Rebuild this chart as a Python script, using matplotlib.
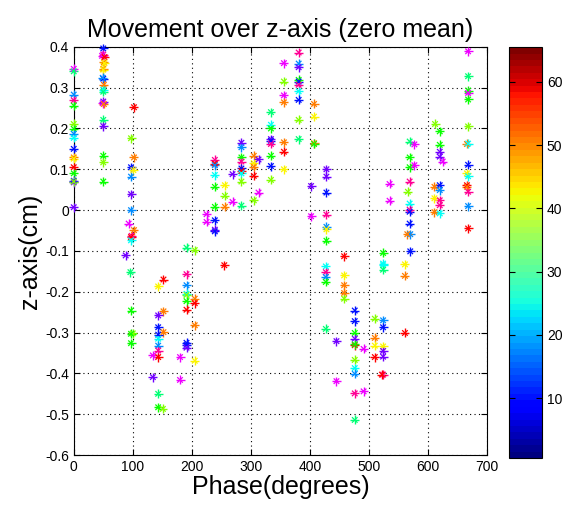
import numpy as np
import matplotlib.pyplot as plt
from matplotlib import cm
from matplotlib.colors import Normalize

plt.rcParams['font.family'] = ['Liberation Sans', 'DejaVu Sans']

# hue index: 0 red, 1 orange, 2 yellow, 3 lime, 4 green, 5 spring green,
# 6 cyan, 7 azure, 8 blue, 9 violet, 10 magenta, 11 rose
fase = [
    0, 0, 0, 0, 0, 0, 0, 0, 0, 0, 0, 0, 0, 0, 0, 0, 0, 0,
    50, 50, 48, 52, 51, 52, 50, 50, 50, 49, 51, 50, 50, 50, 49, 51, 50, 50, 50, 50, 50,
    102, 97, 102, 97, 101, 97, 97, 97, 93, 102, 98, 97, 97, 88, 96, 97, 100, 97, 97,
    152, 143, 152, 143, 143, 152, 143, 143, 143, 143, 143, 134, 134, 143, 143, 151,
    191, 205, 191, 191, 191, 191, 191, 191, 205, 205, 205, 191, 191, 191, 180, 205, 180,
    239, 239, 239, 239, 239, 239, 225, 225, 239, 239, 239,
    256, 256, 256, 269, 269, 255,
    284, 284, 284, 284, 284, 284, 284, 284, 284,
    305, 305, 305, 305, 313, 313, 305,
    334, 334, 334, 334, 334, 334, 334, 334, 334,
    356, 356, 356, 356, 356, 356, 356,
    381, 381, 381, 381, 381, 381, 381, 381, 381, 381,
    407, 407, 407, 407, 402, 402,
    428, 428, 428, 428, 428, 428, 428, 427, 427, 427, 427, 427,
    458, 458, 458, 458, 458, 445, 445,
    476, 476, 476, 476, 476, 476, 476, 476, 476, 476, 476, 491, 491,
    510, 510, 510, 510,
    524, 524, 524, 524, 524, 524, 522, 524, 524, 524, 524,
    535, 535,
    569, 577, 569, 569, 577, 569, 566, 569, 569, 569, 569, 570, 565, 570, 561, 561, 561,
    612, 620, 620, 620, 620, 625, 611, 620, 620, 611, 620, 620, 611, 620,
    668, 668, 668, 668, 668, 668, 666, 668, 668, 666, 668, 666, 666, 668, 668, 668,
]
z = [
    0.346, 0.340, 0.283, 0.269, 0.256, 0.211, 0.199, 0.187, 0.177, 0.150, 0.129, 0.126,
    0.105, 0.090, 0.072, 0.068, 0.070, 0.007,
    0.396, 0.381, 0.378, 0.375, 0.362, 0.360, 0.346, 0.344, 0.322, 0.324, 0.307, 0.295,
    0.290, 0.266, 0.262, 0.260, 0.221, 0.206, 0.133, 0.117, 0.070,
    0.252, 0.176, 0.129, 0.105, 0.098, 0.082, 0.039, 0.000, -0.033, -0.049, -0.063,
    -0.066, -0.074, -0.111, -0.152, -0.246, -0.302, -0.303, -0.326,
    -0.170, -0.187, -0.248, -0.258, -0.287, -0.299, -0.305, -0.315, -0.332, -0.344,
    -0.360, -0.356, -0.409, -0.450, -0.483, -0.487,
    -0.092, -0.098, -0.157, -0.184, -0.205, -0.208, -0.223, -0.244, -0.217, -0.228,
    -0.282, -0.325, -0.330, -0.337, -0.360, -0.369, -0.416,
    0.123, 0.114, 0.110, 0.086, 0.057, 0.008, -0.010, -0.029, -0.025, -0.048, -0.052,
    0.061, 0.035, 0.008, 0.020, 0.088, -0.135,
    0.011, 0.165, 0.154, 0.129, 0.119, 0.102, 0.096, 0.090, 0.070,
    0.133, 0.115, 0.106, 0.084, 0.124, 0.043, 0.024,
    0.240, 0.209, 0.200, 0.174, 0.170, 0.162, 0.133, 0.108, 0.074,
    0.360, 0.315, 0.281, 0.264, 0.166, 0.143, 0.100,
    0.386, 0.359, 0.350, 0.319, 0.315, 0.307, 0.291, 0.270, 0.221, 0.174,
    0.260, 0.229, 0.164, 0.162, 0.059, -0.015,
    0.100, 0.082, 0.043, -0.011, -0.041, -0.047, -0.075, -0.138, -0.152, -0.164, -0.176, -0.291,
    -0.113, -0.160, -0.184, -0.203, -0.217, -0.321, -0.419,
    -0.246, -0.272, -0.301, -0.315, -0.331, -0.329, -0.367, -0.387, -0.401, -0.449, -0.514,
    -0.444, -0.340,
    -0.266, -0.313, -0.332, -0.360,
    -0.270, -0.287, -0.334, -0.345, -0.359, -0.403, -0.403, -0.105, -0.131, -0.135, -0.146,
    0.064, 0.023,
    0.168, 0.161, 0.129, 0.105, 0.110, 0.070, 0.045, 0.016, 0.001, -0.004, -0.033, -0.059,
    -0.059, -0.101, -0.133, -0.161, -0.301,
    0.211, 0.193, 0.160, 0.143, 0.131, 0.119, 0.057, 0.061, 0.049, 0.029, 0.024, 0.012,
    -0.005, -0.008,
    0.389, 0.328, 0.293, 0.287, 0.271, 0.205, 0.162, 0.163, 0.111, 0.090, 0.083, 0.061,
    0.057, 0.045, 0.010, -0.045,
]
tono = [
    10, 5, 7, 11, 4, 3, 4, 7, 6, 8, 1, 2, 0, 4, 8, 9, 3, 9,
    8, 11, 10, 0, 1, 2, 1, 2, 8, 7, 1, 6, 5, 9, 10, 1, 5, 9, 4, 3, 4,
    0, 3, 1, 8, 2, 7, 9, 7, 10, 1, 11, 0, 6, 9, 5, 4, 3, 4, 4,
    0, 2, 1, 9, 8, 1, 8, 6, 7, 11, 0, 10, 9, 5, 4, 3,
    5, 3, 11, 7, 6, 3, 4, 0, 1, 0, 1, 8, 8, 9, 10, 2, 10,
    11, 0, 7, 6, 4, 4, 10, 10, 8, 9, 8,
    2, 3, 1, 10, 9, 0,
    5, 9, 7, 4, 11, 8, 0, 6, 3,
    1, 2, 1, 0, 9, 10, 3,
    5, 6, 4, 9, 8, 11, 4, 8, 3,
    10, 3, 10, 1, 1, 0, 2,
    11, 7, 9, 4, 8, 11, 6, 8, 3, 5,
    1, 2, 1, 4, 9, 10,
    9, 9, 8, 11, 7, 2, 4, 6, 11, 7, 4, 5,
    0, 2, 1, 1, 3, 9, 10,
    8, 8, 4, 9, 0, 4, 3, 6, 7, 11, 5, 10, 10,
    3, 1, 2, 0,
    7, 8, 2, 9, 9, 11, 0, 4, 6, 6, 5,
    10, 10,
    5, 10, 4, 4, 10, 11, 3, 6, 11, 8, 8, 7, 1, 8, 2, 1, 0,
    3, 4, 4, 9, 9, 10, 1, 8, 7, 2, 11, 11, 1, 6,
    10, 5, 4, 10, 4, 3, 1, 6, 8, 2, 6, 0, 1, 11, 7, 0,
]

x_ticks = [0, 100, 200, 300, 400, 500, 600, 700]
y_ticks = [-0.6, -0.5, -0.4, -0.3, -0.2, -0.1, 0, 0.1, 0.2, 0.3, 0.4]
y_tick_labels = ['-0.6', '-0.5', '-0.4', '-0.3', '-0.2', '-0.1', '0', '0.1', '0.2', '0.3', '0.4']
cb_ticks = [10, 20, 30, 40, 50, 60]

fig = plt.figure(figsize=(5.63, 5.09), dpi=100)
ax = fig.add_axes([0.131, 0.106, 0.734, 0.802])

colores = [cm.hsv(t / 12.0) for t in tono]
# asterisco tipo MATLAB: cruz + aspa mas corta
ax.scatter(fase, z, c=colores, marker='+', s=42, linewidths=1.0, clip_on=False, zorder=3)
ax.scatter(fase, z, c=colores, marker='x', s=16, linewidths=0.9, clip_on=False, zorder=3)

ax.set_xlim(0, 700)
ax.set_ylim(-0.6, 0.4)
ax.set_xticks(x_ticks)
ax.set_yticks(y_ticks)
ax.set_yticklabels(y_tick_labels)
ax.grid(True, linestyle=(0, (1, 3)), color='black', linewidth=0.8)
ax.tick_params(direction='in', top=True, right=True, labelsize=10, length=4)
for s in ax.spines.values():
    s.set_linewidth(0.8)

ax.set_title('Movement over z-axis (zero mean)', fontsize=18, pad=7)
ax.set_xlabel('Phase(degrees)', fontsize=18, labelpad=1)
ax.set_ylabel('z-axis(cm)', fontsize=18, labelpad=2)

# barra de color
cax = fig.add_axes([0.904, 0.100, 0.0586, 0.8075])
jet64 = plt.get_cmap('jet', 64)
sm = cm.ScalarMappable(norm=Normalize(vmin=0.5, vmax=65.5), cmap=jet64)
cb = fig.colorbar(sm, cax=cax, ticks=cb_ticks)
cb.ax.tick_params(direction='in', left=True, right=True, labelsize=10, length=4)
cb.outline.set_linewidth(0.8)

fig.savefig('out.png', dpi=100)
